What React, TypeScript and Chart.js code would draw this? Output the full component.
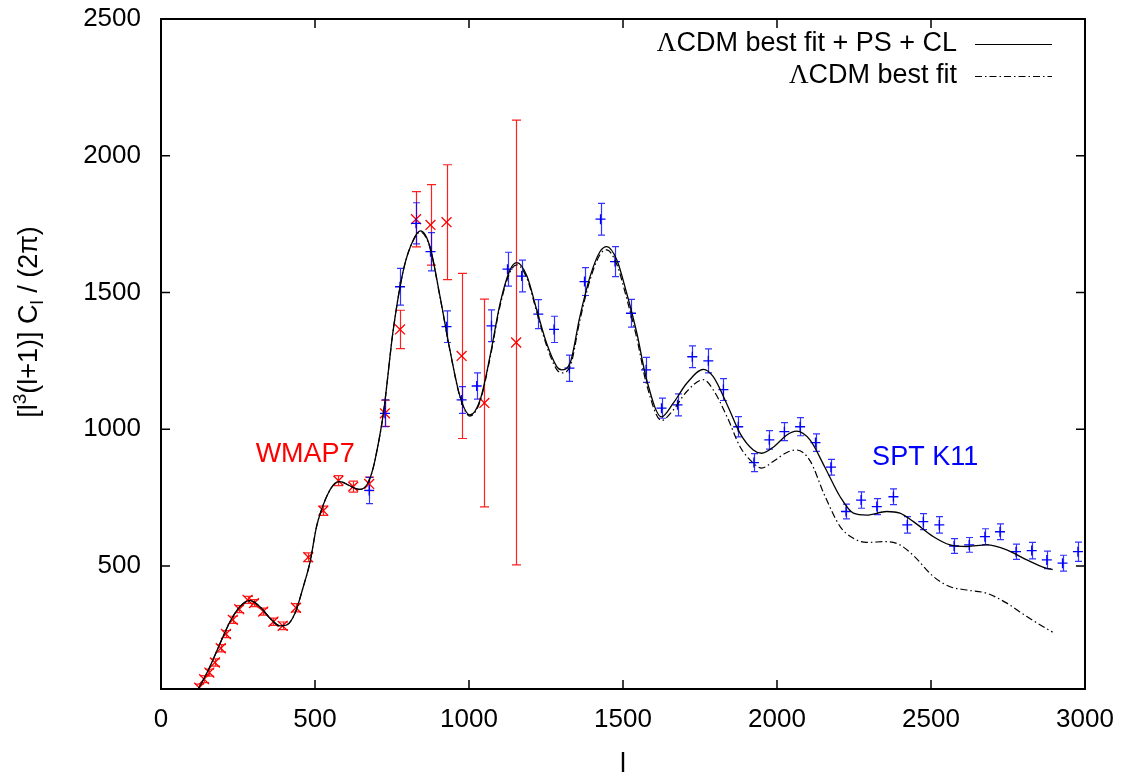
import React, { useEffect, useRef } from 'react';
import { Chart, registerables } from 'chart.js';

Chart.register(...registerables);

// ---- axes ----
const X_MIN = 0;
const X_MAX = 3000;
const Y_MIN = 50;
const Y_MAX = 2500;
const xTickValues = [0, 500, 1000, 1500, 2000, 2500, 3000];
const yTickValues = [500, 1000, 1500, 2000, 2500];
const xTitle = 'l';

// ---- model curves (multipole l) ----
const curveL = [
  105, 127, 159, 192, 224, 256, 289, 321, 354, 386,
  408, 435, 462, 484, 505, 521, 543, 565, 581, 608,
  630, 646, 668, 684, 695, 722, 754, 787, 819, 843,
  873, 906, 938, 971, 1003, 1036, 1068, 1101, 1133, 1155,
  1188, 1220, 1252, 1285, 1301, 1328, 1360, 1393, 1425, 1447,
  1480, 1512, 1545, 1577, 1625, 1663, 1707, 1761, 1793, 1840,
  1880, 1923, 1950, 1990, 2032, 2063, 2107, 2155, 2205, 2248,
  2291, 2356, 2399, 2443, 2508, 2562, 2616, 2681, 2746, 2811,
  2876, 2895,
];
const solidV = [
  25, 62, 132, 217, 296, 351, 373, 351, 309, 281,
  284, 327, 424, 515, 644, 705, 766, 802, 808, 796,
  784, 780, 796, 839, 888, 1058, 1363, 1582, 1692, 1725,
  1668, 1485, 1290, 1119, 1052, 1107, 1265, 1460, 1582, 1609,
  1560, 1436, 1314, 1229, 1217, 1241, 1412, 1558, 1649, 1668,
  1619, 1497, 1351, 1180, 1045, 1095, 1168, 1219, 1192, 1085,
  985, 924, 912, 936, 979, 993, 961, 862, 753, 693,
  686, 699, 693, 662, 607, 577, 571, 577, 559, 522,
  491, 487,
];
const dashV = [
  25, 62, 132, 217, 296, 351, 373, 351, 309, 281,
  284, 327, 424, 515, 644, 705, 766, 802, 808, 796,
  784, 780, 796, 839, 888, 1058, 1363, 1582, 1690, 1721,
  1664, 1482, 1288, 1117, 1048, 1102, 1258, 1452, 1574, 1601,
  1552, 1428, 1305, 1218, 1206, 1228, 1398, 1546, 1638, 1656,
  1602, 1478, 1332, 1162, 1032, 1070, 1138, 1181, 1144, 1040,
  936, 876, 858, 884, 915, 924, 885, 757, 644, 601,
  586, 589, 577, 538, 461, 424, 412, 400, 364, 315,
  270, 258,
];
const seriesLabels = ['ΛCDM best fit + PS + CL', 'ΛCDM best fit'];

// ---- WMAP7 band powers ----
const wmapL = [124, 140, 157, 175, 194, 211, 233, 254, 281, 302, 332, 365, 395, 438, 478, 527, 576, 624, 676, 727, 776, 828, 875, 927, 976, 1050, 1153];
const wmapV = [55, 86, 110, 147, 199, 251, 303, 342, 376, 364, 333, 296, 281, 347, 532, 702, 812, 790, 800, 1058, 1365, 1768, 1747, 1757, 1268, 1096, 1317];
const wmapErr = [13, 13, 13, 13, 13, 13, 13, 13, 13, 13, 13, 13, 14, 15, 16, 17, 18, 20, 25, 48, 70, 101, 147, 210, 302, 380, 813];

// ---- SPT K11 band powers ----
const sptL = [676, 727, 776, 828, 875, 927, 976, 1025, 1073, 1125, 1171, 1225, 1276, 1326, 1375, 1427, 1474, 1526, 1575, 1625, 1677, 1725, 1777, 1826, 1874, 1925, 1975, 2024, 2075, 2125, 2175, 2224, 2273, 2324, 2378, 2423, 2475, 2527, 2575, 2624, 2675, 2724, 2776, 2827, 2876, 2927, 2977];
const sptV = [776, 1058, 1521, 1753, 1649, 1375, 1107, 1158, 1378, 1585, 1560, 1421, 1365, 1223, 1540, 1768, 1613, 1424, 1217, 1077, 1089, 1265, 1250, 1145, 1009, 878, 961, 991, 1009, 951, 861, 699, 741, 717, 753, 650, 662, 650, 573, 577, 607, 625, 552, 556, 522, 510, 552];
const sptErr = [48, 49, 67, 75, 70, 58, 49, 48, 58, 62, 58, 53, 48, 48, 51, 58, 55, 51, 46, 37, 40, 40, 44, 40, 37, 33, 34, 33, 33, 32, 29, 27, 30, 29, 29, 30, 29, 30, 27, 27, 29, 29, 28, 30, 32, 29, 35];

// ---- in-plot text labels ----
const noteTexts = ['WMAP7', 'SPT K11'];
const noteL = [468, 2481];
const noteV = [906, 895];
const noteColors = ['#ff0000', '#0000ff'];

const SANS = '"Liberation Sans", Arial, Helvetica, sans-serif';
const SERIF = '"Liberation Serif", "Times New Roman", serif';

function drawErrorBars(ctx: CanvasRenderingContext2D, xs: any, ys: any, L: number[], V: number[], E: number[], color: string, cap: number) {
  ctx.save();
  ctx.strokeStyle = color;
  ctx.lineWidth = 1.2;
  ctx.beginPath();
  for (let i = 0; i < L.length; i++) {
    const px = Math.round(xs.getPixelForValue(L[i])) + 0.5;
    const top = ys.getPixelForValue(V[i] + E[i]);
    const bot = ys.getPixelForValue(V[i] - E[i]);
    ctx.moveTo(px, top);
    ctx.lineTo(px, bot);
    ctx.moveTo(px - cap, top);
    ctx.lineTo(px + cap, top);
    ctx.moveTo(px - cap, bot);
    ctx.lineTo(px + cap, bot);
  }
  ctx.stroke();
  ctx.restore();
}

function zeroScalePadding(s: any) {
  s.paddingTop = 0;
  s.paddingBottom = 0;
  s.paddingLeft = 0;
  s.paddingRight = 0;
}

const gnuplotPlugin = {
  id: 'gnuplotDecor',
  beforeDatasetsDraw(chart: any) {
    const { ctx, scales } = chart;
    const ca = chart.chartArea;
    ctx.save();
    ctx.beginPath();
    ctx.rect(ca.left, ca.top, ca.right - ca.left, ca.bottom - ca.top);
    ctx.clip();
    drawErrorBars(ctx, scales.x, scales.y, wmapL, wmapV, wmapErr, '#ff2020', 4.5);
    drawErrorBars(ctx, scales.x, scales.y, sptL, sptV, sptErr, 'rgba(0,0,255,0.8)', 3.5);
    ctx.restore();
  },
  afterDraw(chart: any) {
    const { ctx, scales } = chart;
    const ca = chart.chartArea;
    const xs = scales.x;
    const ys = scales.y;
    ctx.save();

    // frame
    ctx.strokeStyle = '#000';
    ctx.lineWidth = 2;
    ctx.strokeRect(ca.left, ca.top, ca.right - ca.left, ca.bottom - ca.top);

    // inward ticks on all sides
    const TL = 9;
    ctx.lineWidth = 1.5;
    ctx.beginPath();
    for (const t of xs.ticks) {
      const px = xs.getPixelForValue(t.value);
      ctx.moveTo(px, ca.bottom);
      ctx.lineTo(px, ca.bottom - TL);
      ctx.moveTo(px, ca.top);
      ctx.lineTo(px, ca.top + TL);
    }
    for (const t of ys.ticks) {
      const py = ys.getPixelForValue(t.value);
      ctx.moveTo(ca.left, py);
      ctx.lineTo(ca.left + TL, py);
      ctx.moveTo(ca.right, py);
      ctx.lineTo(ca.right - TL, py);
    }
    ctx.stroke();

    // x title
    ctx.fillStyle = '#000';
    ctx.font = `27px ${SANS}`;
    ctx.textAlign = 'center';
    ctx.textBaseline = 'alphabetic';
    ctx.fillText(xTitle, (ca.left + ca.right) / 2, 772);

    // y title with superscript / subscript
    const pieces = [
      { t: '[l', s: 27, dy: 0 },
      { t: '3', s: 19, dy: -11 },
      { t: '(l+1)] C', s: 27, dy: 0 },
      { t: 'l', s: 19, dy: 6 },
      { t: ' / (2π)', s: 27, dy: 0 },
    ];
    let total = 0;
    for (const p of pieces) {
      ctx.font = `${p.s}px ${SANS}`;
      total += ctx.measureText(p.t).width;
    }
    ctx.save();
    ctx.translate(37, 322);
    ctx.rotate(-Math.PI / 2);
    ctx.textAlign = 'left';
    let u = -total / 2;
    for (const p of pieces) {
      ctx.font = `${p.s}px ${SANS}`;
      ctx.fillText(p.t, u, p.dy);
      u += ctx.measureText(p.t).width;
    }
    ctx.restore();

    // legend (gnuplot style: right-aligned text, sample on the right)
    const textRight = ca.right - 128;
    const sx0 = ca.right - 110;
    const sx1 = ca.right - 33;
    const rows = [ca.top + 25, ca.top + 57];
    const dashes = [[], [7, 3, 1.5, 3]];
    for (let i = 0; i < seriesLabels.length; i++) {
      const label = seriesLabels[i];
      const first = label.slice(0, 1);
      const rest = label.slice(1);
      ctx.textBaseline = 'middle';
      ctx.textAlign = 'left';
      ctx.fillStyle = '#000';
      ctx.font = `27px ${SANS}`;
      const wRest = ctx.measureText(rest).width;
      ctx.font = `27px ${SERIF}`;
      const wFirst = ctx.measureText(first).width;
      const x0 = textRight - wRest - wFirst;
      ctx.fillText(first, x0, rows[i]);
      ctx.font = `27px ${SANS}`;
      ctx.fillText(rest, x0 + wFirst, rows[i]);
      ctx.beginPath();
      ctx.setLineDash(dashes[i]);
      ctx.lineWidth = 1.2;
      ctx.moveTo(sx0, rows[i] + 0.5);
      ctx.lineTo(sx1, rows[i] + 0.5);
      ctx.stroke();
      ctx.setLineDash([]);
    }

    // in-plot notes
    ctx.textAlign = 'center';
    ctx.textBaseline = 'middle';
    ctx.font = `27px ${SANS}`;
    for (let i = 0; i < noteTexts.length; i++) {
      ctx.fillStyle = noteColors[i];
      ctx.fillText(noteTexts[i], xs.getPixelForValue(noteL[i]), ys.getPixelForValue(noteV[i]));
    }
    ctx.restore();
  },
};

export default function App() {
  const canvasRef = useRef<HTMLCanvasElement | null>(null);

  useEffect(() => {
    const canvas = canvasRef.current;
    if (!canvas) return;
    const chart = new Chart(canvas, {
      type: 'scatter',
      data: {
        datasets: [
          {
            label: seriesLabels[0],
            data: curveL.map((l, i) => ({ x: l, y: solidV[i] })),
            showLine: true,
            borderColor: '#000000',
            backgroundColor: '#000000',
            borderWidth: 1.3,
            pointRadius: 0,
            cubicInterpolationMode: 'monotone',
            order: 0,
          },
          {
            label: seriesLabels[1],
            data: curveL.map((l, i) => ({ x: l, y: dashV[i] })),
            showLine: true,
            borderColor: '#000000',
            backgroundColor: '#000000',
            borderWidth: 1.2,
            borderDash: [7, 3, 1.5, 3],
            pointRadius: 0,
            cubicInterpolationMode: 'monotone',
            order: 1,
          },
          {
            label: 'WMAP7',
            data: wmapL.map((l, i) => ({ x: l, y: wmapV[i] })),
            showLine: false,
            pointStyle: 'crossRot',
            pointRadius: 7,
            borderColor: '#ff0000',
            backgroundColor: '#ff0000',
            pointBorderWidth: 1.3,
            order: 3,
          },
          {
            label: 'SPT K11',
            data: sptL.map((l, i) => ({ x: l, y: sptV[i] })),
            showLine: false,
            pointStyle: 'cross',
            pointRadius: 5,
            borderColor: '#0000ff',
            backgroundColor: '#0000ff',
            pointBorderWidth: 1.3,
            order: 2,
          },
        ],
      },
      options: {
        responsive: false,
        animation: false,
        devicePixelRatio: 1,
        events: [],
        layout: { padding: { left: 0, right: 41, top: 19, bottom: 0 } },
        plugins: {
          legend: { display: false },
          tooltip: { enabled: false },
          title: { display: false },
        },
        scales: {
          x: {
            type: 'linear',
            min: X_MIN,
            max: X_MAX,
            afterBuildTicks: (s: any) => {
              s.ticks = xTickValues.map((v) => ({ value: v }));
            },
            afterFit: (s: any) => {
              s.height = 86;
              zeroScalePadding(s);
            },
            grid: { display: false, drawTicks: false },
            border: { display: false },
            ticks: {
              autoSkip: false,
              maxRotation: 0,
              padding: 15,
              color: '#000',
              font: { family: SANS, size: 26 },
              callback: (v: any) => String(v),
            },
          },
          y: {
            type: 'linear',
            min: Y_MIN,
            max: Y_MAX,
            afterBuildTicks: (s: any) => {
              s.ticks = yTickValues.map((v) => ({ value: v }));
            },
            afterFit: (s: any) => {
              s.width = 161;
              zeroScalePadding(s);
            },
            grid: { display: false, drawTicks: false },
            border: { display: false },
            ticks: {
              autoSkip: false,
              padding: 20,
              color: '#000',
              font: { family: SANS, size: 26 },
              callback: (v: any) => String(v),
            },
          },
        },
      },
      plugins: [gnuplotPlugin],
    });
    return () => chart.destroy();
  }, []);

  return (
    <div style={{ position: 'fixed', left: 0, top: 0, width: 1126, height: 775, background: '#ffffff' }}>
      <canvas ref={canvasRef} width={1126} height={775} style={{ display: 'block' }} />
    </div>
  );
}
